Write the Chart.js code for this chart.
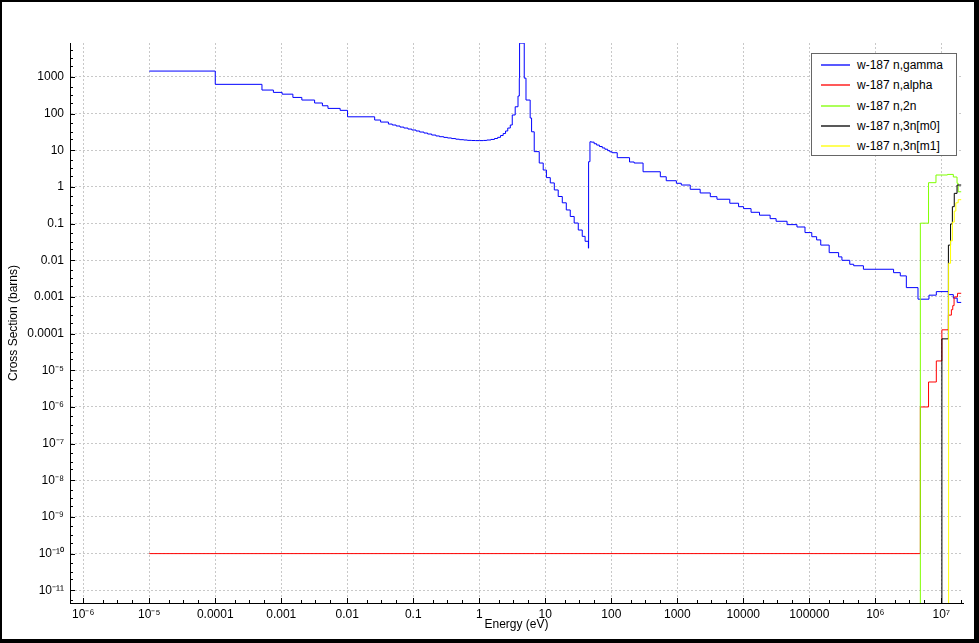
<!DOCTYPE html>
<html>
<head>
<meta charset="utf-8">
<script src="https://cdn.jsdelivr.net/npm/chart.js@4.4.1/dist/chart.umd.min.js"></script>
<style>
  html, body { margin: 0; padding: 0; background: #000; }
  #frame { position: absolute; left: 2px; top: 2px; width: 972px; height: 637px; background: #fff; }
  #legend {
    position: absolute; left: 809px; top: 51px; width: 144px; height: 101px;
    border: 1px solid #666; background: #fff;
    font: 12px "Liberation Sans", Arial, Helvetica, sans-serif; color: #000;
  }
  .row { position: absolute; left: 9px; height: 20px; display: flex; align-items: center; white-space: nowrap; }
  .swatch { width: 29px; height: 2px; margin-right: 7px; opacity: 0.65; }
</style>
</head>
<body>
<div id="frame">
  <canvas id="xs" width="972" height="637"></canvas>
  <div id="legend"></div>
</div>
<script>
// w-187 cross sections, energies in eV, values in barns
// (1e-14 marks "zero below threshold", it sits under the axis minimum)
const gammaE = [1e-5, 1e-4, 5.1e-4, 7.6e-4, 1.03e-3, 1.5e-3, 2.05e-3, 3.2e-3, 4.2e-3, 5.1e-3,
  7.8e-3, 0.0101, 0.026, 0.032,
  0.042, 0.048, 0.055, 0.063, 0.072, 0.083, 0.095, 0.11, 0.125, 0.145,
  0.165, 0.19, 0.22, 0.25, 0.29, 0.33, 0.38, 0.44, 0.5, 0.58,
  0.66, 0.76, 0.87, 1.0, 1.15, 1.3, 1.5, 1.7, 1.9, 2.1,
  2.3, 2.5, 2.7, 2.95, 3.16, 3.5, 3.86, 4.04, 4.08, 4.8,
  5.1, 5.9, 6.2, 6.8, 8.1, 9.3, 10.4, 11.9, 13.7, 15.7,
  18.1, 20.8, 23.9, 27.4, 31.6, 36.3, 40.1, 45, 45.3, 47.5,
  50, 55, 60, 66, 73, 80, 88, 95, 103, 123,
  189, 222, 303, 553, 680, 968, 1150, 1570, 2220, 3160,
  3990, 6240, 8480, 1.01e4, 1.31e4, 1.76e4, 2.55e4, 3.14e4, 4.6e4, 6.5e4,
  8.6e4, 1.09e5, 1.29e5, 1.49e5, 2.0e5, 2.78e5, 3.12e5, 4.1e5, 4.7e5, 6.6e5,
  1.89e6, 2.39e6, 2.95e6, 4.43e6, 6.5e6, 8.4e6, 1.28e7, 1.52e7, 1.74e7, 2.0e7];
const gammaXS = [1450, 630, 440, 380, 340, 277, 235, 195, 164, 139,
  123, 82, 67, 59,
  52, 49, 46, 43, 40.5, 38, 35.8, 33.6, 31.5, 29.6,
  27.8, 26.1, 24.6, 23.5, 22.5, 21.7, 20.9, 20.1, 19.5, 19.1,
  18.7, 18.5, 18.4, 18.4, 18.6, 19.1, 19.8, 21, 22.6, 25.3,
  28.7, 33.6, 40.5, 49, 92, 154, 302, 930, 8400, 930,
  235, 76, 32, 9.2, 4.5, 2.9, 1.8, 1.29, 0.83, 0.55,
  0.37, 0.236, 0.157, 0.104, 0.067, 0.045, 0.033, 0.0214, 4.9, 17.1,
  16.7, 15.1, 13.9, 12.7, 11.6, 10.7, 9.8, 9.1, 8.6, 6.3,
  4.8, 4.5, 2.6, 1.9, 1.48, 1.26, 1.13, 0.865, 0.687, 0.544,
  0.463, 0.36, 0.29, 0.257, 0.204, 0.17, 0.137, 0.116, 0.094, 0.081,
  0.057, 0.044, 0.036, 0.026, 0.0162, 0.0124, 0.0100, 0.0078, 0.0071, 0.0057,
  0.0046, 0.00376, 0.0018, 0.00087, 0.00112, 0.0014, 0.00116, 0.00093, 0.00071, 0.00071];

const alphaE = [1e-5, 4.81e6, 6.4e6, 8.4e6, 1.02e7, 1.28e7, 1.42e7, 1.49e7, 1.56e7, 1.76e7, 2.0e7];
const alphaXS = [1e-10, 1e-6, 4.8e-6, 1.8e-5, 1.27e-4, 3.2e-4, 4.5e-4, 5.8e-4, 1.0e-3, 1.26e-3, 1.26e-3];

const n2nE = [4.81e6, 4.81e6, 6.4e6, 8.3e6, 1.24e7, 1.52e7, 1.73e7, 1.8e7, 2.0e7];
const n2nXS = [1e-14, 0.103, 1.31, 2.12, 2.2, 1.87, 1.26, 0.74, 0.74];

const n3nm0E = [1.02e7, 1.02e7, 1.28e7, 1.38e7, 1.47e7, 1.57e7, 1.73e7, 2.0e7];
const n3nm0XS = [1e-14, 7.2e-5, 0.026, 0.098, 0.29, 0.67, 1.13, 1.13];

const n3nm1E = [1.29e7, 1.29e7, 1.38e7, 1.47e7, 1.57e7, 1.66e7, 1.8e7, 2.0e7];
const n3nm1XS = [1e-14, 0.0083, 0.034, 0.11, 0.22, 0.37, 0.45, 0.45];

const seriesLabels = ['w-187 n,gamma', 'w-187 n,alpha', 'w-187 n,2n', 'w-187 n,3n[m0]', 'w-187 n,3n[m1]'];
const seriesColors = ['#0000ff', '#ff0000', '#80ff00', '#000000', '#ffff00'];

const xMin = 6.3e-7, xMax = 2.13e7;
const yMin = 4.5e-12, yMax = 8450;
const tickSteps = [1, 2, 3.2, 5.5];

const sup = { '-': '\u207B', '0': '\u2070', '1': '\u00B9', '2': '\u00B2', '3': '\u00B3', '4': '\u2074',
  '5': '\u2075', '6': '\u2076', '7': '\u2077', '8': '\u2078', '9': '\u2079' };

function fmt(v) {
  const e = Math.round(Math.log10(v));
  if (e >= 0 && e <= 5) return String(10 ** e);
  if (e < 0 && e >= -4) return '0.' + '0'.repeat(-e - 1) + '1';
  return '10' + String(e).split('').map(c => sup[c]).join('');
}

function decades(scale) {
  const out = [];
  for (let e = Math.ceil(Math.log10(scale.min)); e <= Math.floor(Math.log10(scale.max)); e++) {
    out.push({ value: 10 ** e });
  }
  scale.ticks = out;
}

function pts(xs, ys) {
  return xs.map((x, i) => ({ x: x, y: ys[i] }));
}

const allSeries = [[gammaE, gammaXS], [alphaE, alphaXS], [n2nE, n2nXS], [n3nm0E, n3nm0XS], [n3nm1E, n3nm1XS]];

const innerTicks = {
  id: 'innerTicks',
  afterDraw(chart) {
    const { ctx, chartArea, scales: { x, y } } = chart;
    ctx.save();
    ctx.strokeStyle = '#000';
    ctx.lineWidth = 1;
    ctx.beginPath();
    for (let e = -13; e <= 8; e++) {
      tickSteps.forEach(m => {
        const v = m * 10 ** e;
        const len = m === 1 ? 5 : 3;
        if (v >= x.min && v <= x.max) {
          const px = Math.round(x.getPixelForValue(v)) + 0.5;
          ctx.moveTo(px, chartArea.bottom);
          ctx.lineTo(px, chartArea.bottom - len);
        }
        if (v >= y.min && v <= y.max) {
          const py = Math.round(y.getPixelForValue(v)) + 0.5;
          ctx.moveTo(chartArea.left, py);
          ctx.lineTo(chartArea.left + len, py);
        }
      });
    }
    ctx.stroke();
    ctx.restore();
  }
};

Chart.defaults.font.family = '"Liberation Sans", Arial, Helvetica, sans-serif';
Chart.defaults.font.size = 12;
Chart.defaults.color = '#000';

const chart = new Chart(document.getElementById('xs').getContext('2d'), {
  type: 'line',
  data: {
    datasets: allSeries.map((s, i) => ({
      label: seriesLabels[i],
      data: pts(s[0], s[1]),
      borderColor: seriesColors[i],
      backgroundColor: seriesColors[i],
      borderWidth: 1,
      pointRadius: 0,
      stepped: 'before',
      fill: false,
      order: allSeries.length - i
    }))
  },
  options: {
    responsive: false,
    animation: false,
    layout: { padding: { top: 41, right: 11, left: 0, bottom: 0 } },
    plugins: { legend: { display: false }, tooltip: { enabled: false } },
    scales: {
      x: {
        type: 'logarithmic',
        min: xMin,
        max: xMax,
        afterBuildTicks: decades,
        afterFit: s => { s.height = 36; },
        grid: { color: '#c8c8c8', drawTicks: false },
        border: { color: '#000', width: 1, dash: [2, 2] },
        ticks: { callback: v => fmt(v), autoSkip: false, maxRotation: 0, padding: 4 },
        title: { display: true, text: 'Energy (eV)', padding: { top: 0, bottom: 7 } }
      },
      y: {
        type: 'logarithmic',
        min: yMin,
        max: yMax,
        afterBuildTicks: decades,
        afterFit: s => { s.width = 68; },
        grid: { color: '#c8c8c8', drawTicks: false },
        border: { color: '#000', width: 1, dash: [2, 2] },
        ticks: { callback: v => fmt(v), autoSkip: false, padding: 6 },
        title: { display: true, text: 'Cross Section (barns)', padding: { top: 4, bottom: 4 } }
      }
    }
  },
  plugins: [innerTicks]
});

// legend box
const legend = document.getElementById('legend');
chart.data.datasets.forEach((ds, i) => {
  const row = document.createElement('div');
  row.className = 'row';
  row.style.top = Math.round(i * 20.3 + 1) + 'px';
  const sw = document.createElement('span');
  sw.className = 'swatch';
  sw.style.background = seriesColors[i];
  const txt = document.createElement('span');
  txt.textContent = ds.label;
  row.appendChild(sw);
  row.appendChild(txt);
  legend.appendChild(row);
});
</script>
</body>
</html>
